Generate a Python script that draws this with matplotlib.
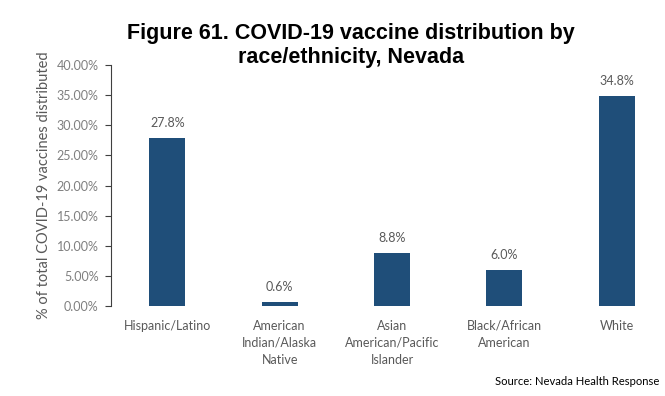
import matplotlib.pyplot as plt
from matplotlib.ticker import FuncFormatter

# data
groups = ['Hispanic/Latino', 'American\nIndian/Alaska\nNative', 'Asian\nAmerican/Pacific\nIslander',
          'Black/African\nAmerican', 'White']
shares = [27.8, 0.6, 8.8, 6.0, 34.8]
bar_labels = ['27.8%', '0.6%', '8.8%', '6.0%', '34.8%']

plt.rcParams['font.family'] = ['Lato', 'DejaVu Sans']

fig = plt.figure(figsize=(6.65, 3.96), dpi=100)
ax = fig.add_axes([0.167, 0.227, 0.845, 0.609])

x = list(range(len(groups)))
bars = ax.bar(x, shares, width=0.32, color='#1F4E79')
for b, lab in zip(bars, bar_labels):
    ax.text(b.get_x() + b.get_width() / 2, b.get_height() + 1.5, lab,
            ha='center', va='bottom', fontsize=9, color='#595959')

ax.set_xlim(-0.5, len(groups) - 0.5)
ax.set_ylim(0, 40)
ax.set_yticks(range(0, 41, 5))
ax.yaxis.set_major_formatter(FuncFormatter(lambda v, p: f'{v:.2f}%'))
ax.set_xticks(x)
ax.set_xticklabels(groups, fontsize=9, color='#595959', linespacing=1.5)
ax.tick_params(axis='x', length=0, pad=10)
ax.tick_params(axis='y', labelsize=9, labelcolor='#7f7f7f', length=4, color='#404040', pad=5)

for s in ['top', 'right', 'bottom']:
    ax.spines[s].set_visible(False)
ax.spines['left'].set_color('#404040')

ax.set_ylabel('% of total COVID-19 vaccines distributed', fontsize=10.5, color='#595959', labelpad=4)

fig.text(0.528, 0.886, 'Figure 61. COVID-19 vaccine distribution by\nrace/ethnicity, Nevada',
         ha='center', va='center', fontsize=15.5, fontweight='bold',
         family=['Liberation Sans', 'DejaVu Sans'], linespacing=1.2)
fig.text(0.745, 0.028, 'Source: Nevada Health Response', fontsize=8.1, color='black')

fig.savefig('out.png', dpi=100, facecolor='white')
